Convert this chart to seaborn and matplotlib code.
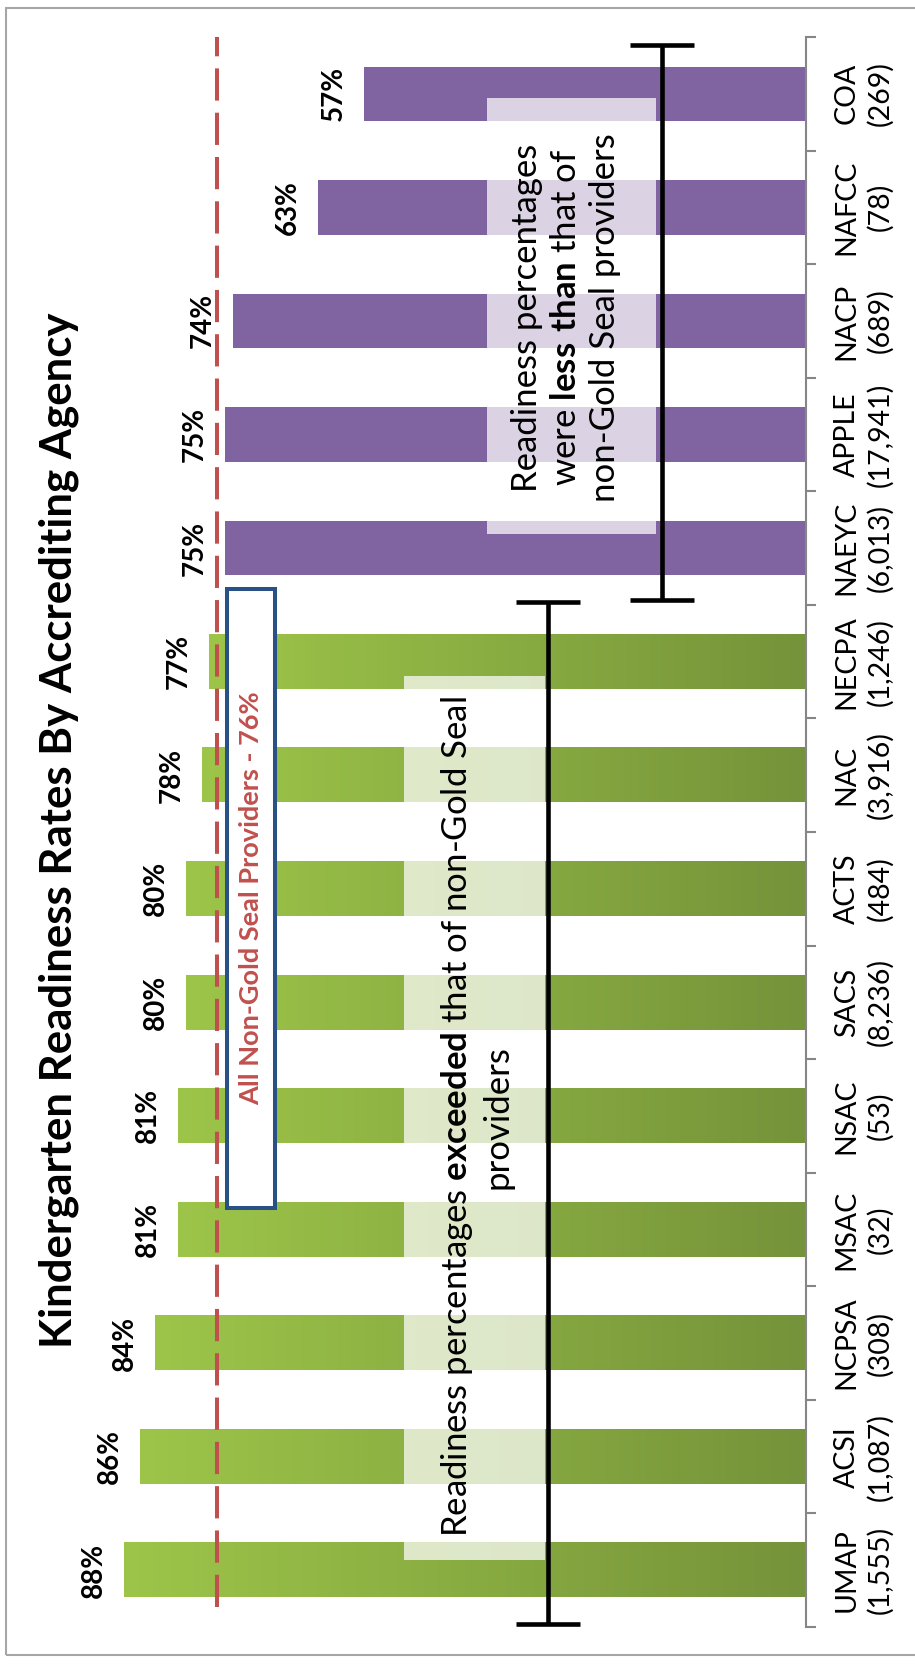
import numpy as np
import pandas as pd
import seaborn as sns
import matplotlib.pyplot as plt
from matplotlib.patches import Rectangle
from matplotlib.colors import LinearSegmentedColormap, to_rgb

# data (read left to right in the original landscape chart)
agencies = ['UMAP', 'ACSI', 'NCPSA', 'MSAC', 'NSAC', 'SACS', 'ACTS', 'NAC', 'NECPA',
            'NAEYC', 'APPLE', 'NACP', 'NAFCC', 'COA']
providers = ['1,555', '1,087', '308', '32', '53', '8,236', '484', '3,916', '1,246',
             '6,013', '17,941', '689', '78', '269']
readiness = [88, 86, 84, 81, 81, 80, 80, 78, 77, 75, 75, 74, 63, 57]
non_gold_seal = 76

title = 'Kindergarten Readiness Rates By Accrediting Agency'
ref_text = 'All Non-Gold Seal Providers - 76%'
txt_above = 'Readiness percentages $\\mathbf{exceeded}$ that of non-Gold Seal\nproviders'
txt_below = 'Readiness percentages\nwere $\\mathbf{less\\ than}$ that of\nnon-Gold Seal providers'

green_light = '#9DC549'
green_dark = '#75933A'
purple = '#8064A2'
red = '#C0504D'

df = pd.DataFrame({'label': [f'{a}\n({n})' for a, n in zip(agencies, providers)],
                   'pct': readiness})
df['group'] = np.where(df['pct'] > non_gold_seal, 'above', 'below')

sns.set_style('white')
plt.rcParams['font.family'] = ['Lato', 'DejaVu Sans']
plt.rcParams['text.color'] = 'black'
plt.rcParams['mathtext.fontset'] = 'custom'
plt.rcParams['mathtext.rm'] = 'Lato'
plt.rcParams['mathtext.bf'] = 'Lato:bold'

W, H = 915, 1664
fig = plt.figure(figsize=(W / 100, H / 100), dpi=100)
ax = fig.add_axes([31 / W, 1 - 1627 / H, 775 / W, 1590 / H])

order = df['label'][::-1].tolist()
sns.barplot(data=df, x='pct', y='label', hue='group', order=order, dodge=False,
            palette={'above': green_dark, 'below': purple}, saturation=1,
            width=0.48, linewidth=0, legend=False, ax=ax)

# gradient fill on the green bars
cmap = LinearSegmentedColormap.from_list('grn', [green_dark, green_light])
grad = np.linspace(0, 1, 256).reshape(1, -1)
for bar in list(ax.patches):
    if np.allclose(bar.get_facecolor()[:3], to_rgb(green_dark)):
        x0, y0, w, h = bar.get_x(), bar.get_y(), bar.get_width(), bar.get_height()
        ax.imshow(grad, cmap=cmap, extent=(x0, x0 + w, y0 + h, y0), aspect='auto',
                  interpolation='bilinear', zorder=bar.get_zorder() + 0.1)

# value labels
for c in ax.containers:
    for bar in c:
        v = bar.get_width()
        if np.isnan(v):
            continue
        ax.annotate(f'{v:.0f}%', (v, bar.get_y() + bar.get_height() / 2),
                    xytext=(-30, 0), textcoords='offset pixels', rotation=90,
                    ha='center', va='center', fontsize=20, fontweight='bold', zorder=6)

# reference line
ax.axvline(non_gold_seal, ymin=20 / 1590, ymax=1, color=red, lw=2.9,
           dashes=(8, 3), zorder=3)

# translucent text panels
for xa, xb, ya, yb in [(33.7, 51.9, 5.13, 12.91), (19.4, 41.2, 0.04, 3.88)]:
    ax.add_patch(Rectangle((xa, ya), xb - xa, yb - ya, facecolor=(1, 1, 1, 0.72),
                           edgecolor='none', zorder=3))

# brackets
for x, ya, yb in [(18.6, -0.43, 4.46), (33.3, 4.475, 13.47)]:
    ax.errorbar(x, (ya + yb) / 2, yerr=(yb - ya) / 2, fmt='none', ecolor='black',
                elinewidth=3.3, capsize=23, capthick=3.3, zorder=4)

ax.text(42.5, 9.01, txt_above, rotation=90, ha='center', va='center',
        multialignment='center', fontsize=25, linespacing=1.25, zorder=5)
ax.text(31, 1.97, txt_below, rotation=90, ha='center', va='center',
        multialignment='center', fontsize=25, linespacing=1.27, zorder=5)

# reference box
ax.add_patch(Rectangle((68.5, 4.36), 74.7 - 68.5, 9.81 - 4.36, facecolor='white',
                       edgecolor='#2A5185', lw=2.9, zorder=4))
ax.text(71.6, 7.08, ref_text, rotation=90, ha='center', va='center', color=red,
        fontsize=19.5, fontweight='bold', zorder=5)

ax.set_xlim(100, 0)
ax.set_ylim(len(order) - 0.5, -0.5)
ax.set_xlabel('')
ax.set_ylabel('')
ax.xaxis.set_visible(False)
for s in ['left', 'top', 'bottom']:
    ax.spines[s].set_visible(False)
ax.spines['right'].set_color('#868686')
ax.spines['right'].set_linewidth(1.5)
ax.yaxis.tick_right()
ax.set_yticks(np.arange(len(order) + 1) - 0.5, minor=True)
ax.tick_params(axis='y', which='major', length=0, pad=20, labelsize=20.5,
               labelrotation=90, labelcolor='black')
ax.tick_params(axis='y', which='minor', length=7, width=1.5, color='#868686',
               right=True, left=False)
for t in ax.get_yticklabels():
    t.set_multialignment('center')
    t.set_linespacing(1.3)
    t.set_va('center')
    t.set_ha('left')

fig.text(72 / W, 1 - 830 / H, title, rotation=90, rotation_mode='anchor',
         ha='center', va='baseline', fontsize=31.5, fontweight='bold')

fig.add_artist(Rectangle((6 / W, 1 - 1655 / H), 1.0, (1655 - 8) / H,
                         transform=fig.transFigure, fill=False,
                         edgecolor='#A6A6A6', lw=1.5))

fig.savefig('out.png', dpi=100)
